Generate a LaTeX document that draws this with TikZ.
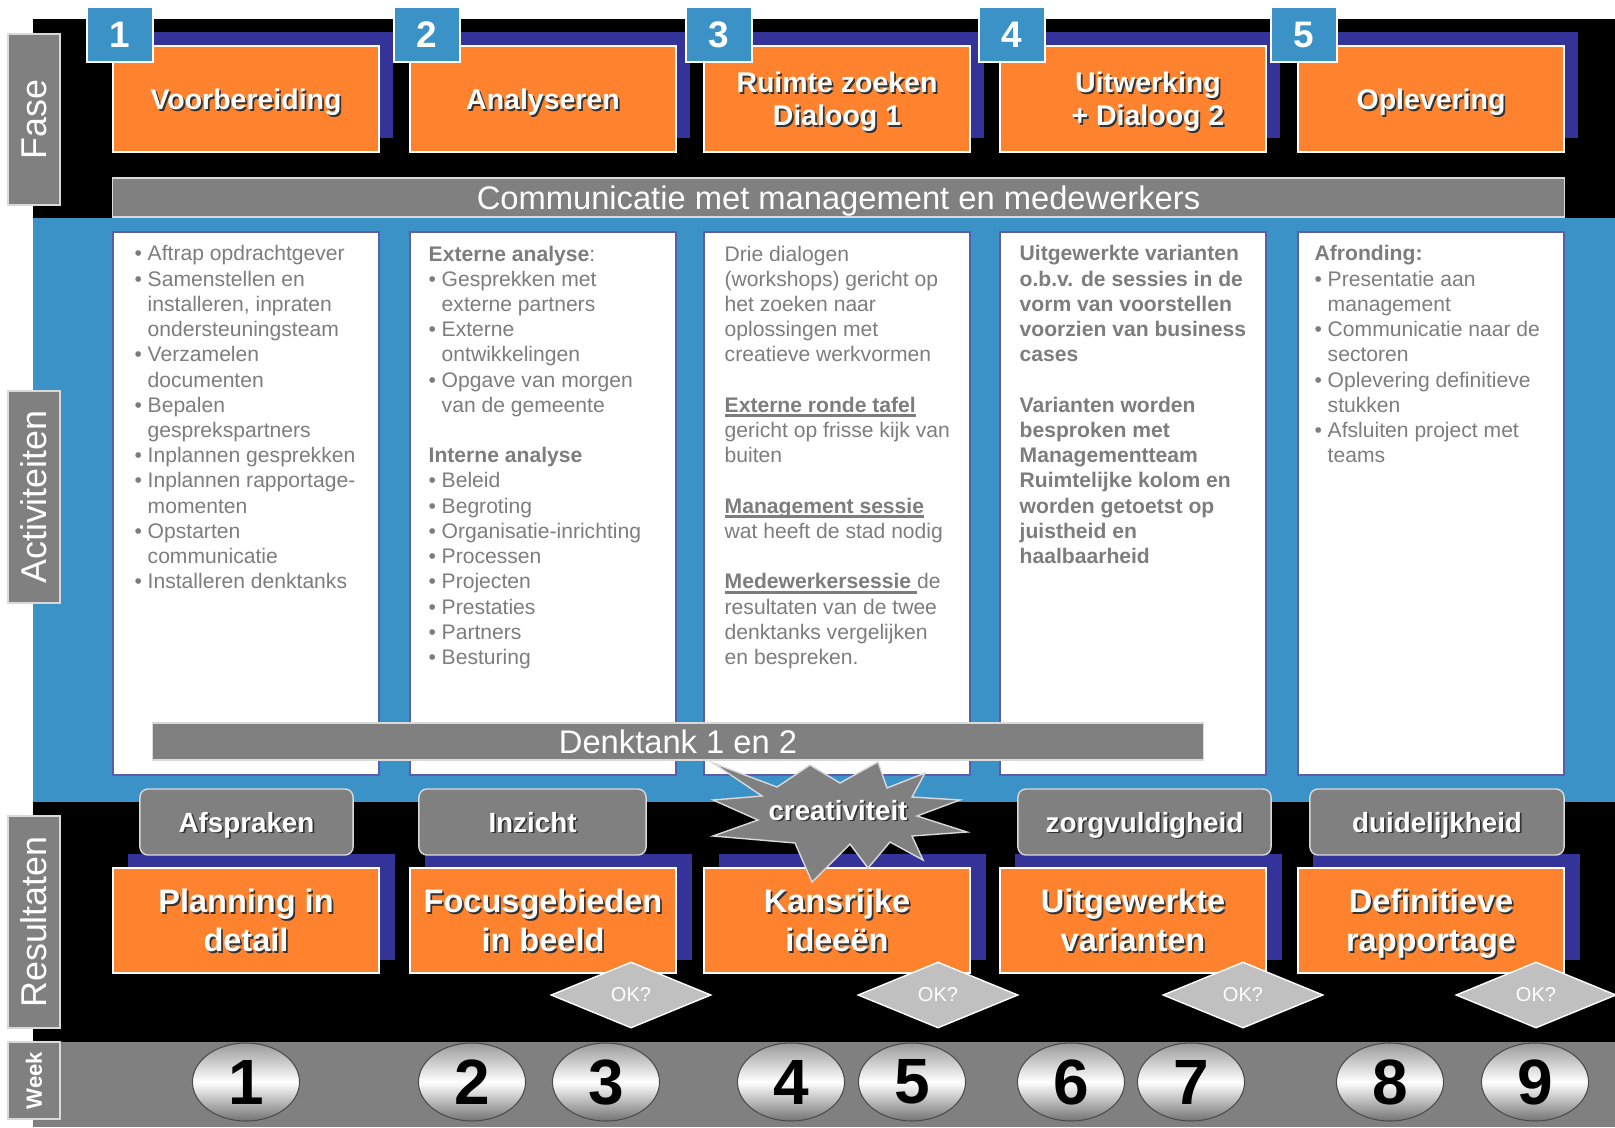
\documentclass[tikz,border=0pt]{standalone}
\usepackage{fontspec}
\setmainfont{Liberation Sans}
\usetikzlibrary{shapes.geometric,calc}

\definecolor{fzOrange}{RGB}{255,131,47}
\definecolor{fzNavy}{RGB}{51,51,153}
\definecolor{fzBlue}{RGB}{59,146,199}
\definecolor{fzGray}{RGB}{128,128,128}
\definecolor{fzLight}{RGB}{192,192,192}
\definecolor{fzText}{RGB}{125,125,125}

% white text with a small dark shadow
\newcommand{\sh}[1]{\rlap{\kern0.5pt\raisebox{-0.5pt}{\color{black!80}#1}}#1}
% thick underline for the session headings
\newsavebox\ulbox
\newcommand{\uline}[1]{\sbox\ulbox{#1}\rlap{\rule[-1.4pt]{\wd\ulbox}{0.8pt}}\usebox\ulbox}
% bullet item and hanging indent
\newcommand{\itm}{\makebox[3.7pt][l]{\textbullet}}
\newcommand{\ind}{\hspace*{3.7pt}}

\tikzset{
  phase/.style={rectangle, draw=white, line width=0.4pt, fill=fzOrange, text=white, align=center, text depth=0pt, font=\bfseries\fontsize{8.1}{9.4}\selectfont, minimum width=2.66cm, minimum height=1.06cm, inner sep=0pt},
  result/.style={phase, font=\bfseries\fontsize{9.25}{11.1}\selectfont, minimum height=1.05cm},
  numbox/.style={rectangle, draw=white, line width=0.4pt, fill=fzBlue, text=white, font=\bfseries\fontsize{10.5}{12}\selectfont, minimum width=0.66cm, minimum height=0.55cm, inner sep=0pt},
  actbox/.style={rectangle, draw=fzNavy!80, line width=0.4pt, fill=white, minimum width=2.66cm, minimum height=5.43cm},
  acttext/.style={anchor=north west, inner sep=0pt, align=left, text=fzText, font=\fontsize{6}{7.17}\selectfont},
  band/.style={rectangle, draw=white!85!black, line width=0.4pt, fill=fzGray, text=white, text depth=0pt, font=\fontsize{9.3}{11}\selectfont, inner sep=0pt},
  outcome/.style={rectangle, rounded corners=2.3pt, draw=white!85!black, line width=0.4pt, fill=fzGray, text=white, text depth=0pt, font=\bfseries\fontsize{7.9}{9.5}\selectfont, minimum height=0.66cm, inner sep=0pt},
  okgate/.style={diamond, aspect=2.42, draw=white, line width=0.4pt, fill=fzLight, text=white, font=\fontsize{5.7}{7}\selectfont, minimum width=1.6cm, minimum height=0.66cm, inner sep=0pt},
  weekegg/.style={ellipse, draw=black!70, line width=0.3pt, top color=black!40, bottom color=black!55, middle color=white, font=\bfseries\fontsize{18.2}{20}\selectfont, minimum width=1.07cm, minimum height=0.78cm, inner sep=0pt},
  sidelab/.style={rectangle, rotate=90, draw=white!85!black, line width=0.4pt, fill=fzGray, text=white, font=\fontsize{10.2}{12}\selectfont, minimum height=0.52cm, inner sep=0pt},
}

\begin{document}
\begin{tikzpicture}[x=0.01cm, y=-0.01cm]
  \useasboundingbox (0,0) rectangle (1615,1127);

  %% background bands
  \fill[black] (33,19) rectangle (1615,1127);
  \fill[fzBlue] (33,218) rectangle (1615,802);
  \fill[fzGray] (33,1042) rectangle (1615,1127);

  %% ==================
  %% Fase
  %% ==================
  \foreach \cx/\nx/\ttl [count=\i] in {246/120/{\sh{Voorbereiding}}, 543/427/{\sh{Analyseren}},
      837/719/{\sh{Ruimte zoeken}\\\sh{Dialoog 1}},
      1133/1012/{\hspace*{8.5pt}\sh{Uitwerking}\\\hspace*{8.5pt}\sh{+ Dialoog 2}},
      1431/1304/{\sh{Oplevering}}}{
    \fill[fzNavy] ({\cx-119},32) rectangle ({\cx+147},138);
    \node[phase] (ph\i) at (\cx,99) {\ttl};
    \node[numbox] (nr\i) at (\nx,34.5) {\i};
  }

  \node[band, minimum width=14.51cm, minimum height=0.39cm] (comm) at (838.5,197.5)
    {Communicatie met management en medewerkers};

  %% ==================
  %% Activiteiten
  %% ==================
  \foreach \cx [count=\i] in {246,543,837,1133,1431}
    \node[actbox] (ac\i) at (\cx,503.5) {};

  \node[acttext] (tx1) at (134,245) {%
    \itm Aftrap opdrachtgever\\
    \itm Samenstellen en\\
    \ind installeren, inpraten\\
    \ind ondersteuningsteam\\
    \itm Verzamelen\\
    \ind documenten\\
    \itm Bepalen\\
    \ind gesprekspartners\\
    \itm Inplannen gesprekken\\
    \itm Inplannen rapportage-\\
    \ind momenten\\
    \itm Opstarten\\
    \ind communicatie\\
    \itm Installeren denktanks};

  \node[acttext] (tx2) at (428,245) {%
    \textbf{Externe analyse}:\\
    \itm Gesprekken met\\
    \ind externe partners\\
    \itm Externe\\
    \ind ontwikkelingen\\
    \itm Opgave van morgen\\
    \ind van de gemeente\\[7.17pt]
    \textbf{Interne analyse}\\
    \itm Beleid\\
    \itm Begroting\\
    \itm Organisatie-inrichting\\
    \itm Processen\\
    \itm Projecten\\
    \itm Prestaties\\
    \itm Partners\\
    \itm Besturing};

  \node[acttext] (tx3) at (724,245) {%
    Drie dialogen\\
    (workshops) gericht op\\
    het zoeken naar\\
    oplossingen met\\
    creatieve werkvormen\\[7.17pt]
    \uline{\textbf{Externe ronde tafel}}\\
    gericht op frisse kijk van\\
    buiten\\[7.17pt]
    \uline{\textbf{Management sessie}}\\
    wat heeft de stad nodig\\[7.17pt]
    \uline{\textbf{Medewerkersessie }}de\\
    resultaten van de twee\\
    denktanks vergelijken\\
    en bespreken.};

  \node[acttext, font=\bfseries\fontsize{6}{7.17}\selectfont] (tx4) at (1019,245) {%
    Uitgewerkte varianten\\
    o.b.v. de sessies in de\\
    vorm van voorstellen\\
    voorzien van business\\
    cases\\[7.17pt]
    Varianten worden\\
    besproken met\\
    Managementteam\\
    Ruimtelijke kolom en\\
    worden getoetst op\\
    juistheid en\\
    haalbaarheid};

  \node[acttext] (tx5) at (1314,245) {%
    \textbf{Afronding:}\\
    \itm Presentatie aan\\
    \ind management\\
    \itm Communicatie naar de\\
    \ind sectoren\\
    \itm Oplevering definitieve\\
    \ind stukken\\
    \itm Afsluiten project met\\
    \ind teams};

  \node[band, minimum width=10.5cm, minimum height=0.37cm] (denk) at (678,741.5)
    {Denktank 1 en 2};

  %% ==================
  %% Resultaten
  %% ==================
  \foreach \cx/\ttl [count=\i] in {246/{\sh{Planning in}\\\sh{detail}},
      543/{\sh{Focusgebieden}\\\sh{in beeld}}, 837/{\sh{Kansrijke}\\\sh{ideeën}},
      1133/{\sh{Uitgewerkte}\\\sh{varianten}}, 1431/{\sh{Definitieve}\\\sh{rapportage}}}{
    \fill[fzNavy] ({\cx-118},854) rectangle ({\cx+149},960);
    \node[result] (rs\i) at (\cx,920.5) {\ttl};
  }

  \node[outcome, minimum width=2.13cm] (oc1) at (246.5,822) {\sh{Afspraken}};
  \node[outcome, minimum width=2.27cm] (oc2) at (532.5,822) {\sh{Inzicht}};
  \node[outcome, minimum width=2.53cm] (oc4) at (1144.5,822) {\sh{zorgvuldigheid}};
  \node[outcome, minimum width=2.54cm] (oc5) at (1437,822) {\sh{duidelijkheid}};

  % creativity burst
  \filldraw[fill=fzGray, draw=white!85!black, line width=0.4pt]
    (713,763) -- (777,787) -- (810,765) -- (840,783) -- (878,762) -- (887,788)
    -- (925,773) -- (912,797) -- (960,800) -- (917,816) -- (967,832) -- (912,836)
    -- (923,860) -- (890,842) -- (868,868) -- (850,844) -- (812,882) -- (795,843)
    -- (713,836) -- (758,820) -- (713,800) -- (762,796) -- cycle;
  \node[text=white, font=\bfseries\fontsize{7.9}{9.5}\selectfont] (oc3) at (838,811) {\sh{creativiteit}};

  \foreach \gx [count=\i] in {631,938,1243,1536}
    \node[okgate] (ok\i) at (\gx,995) {OK?};

  %% ==================
  %% Week
  %% ==================
  \foreach \wx [count=\i] in {246,472,606,791,912,1071,1191,1390,1535}
    \node[weekegg] (wk\i) at (\wx,1082) {\i};

  % side labels
  \node[sidelab, minimum width=1.71cm] (lfase) at (34,119.5) {Fase};
  \node[sidelab, minimum width=2.12cm] (lact) at (34,497) {Activiteiten};
  \node[sidelab, minimum width=2.12cm] (lres) at (34,922) {Resultaten};
  \node[sidelab, minimum width=0.77cm, font=\bfseries\fontsize{6.3}{7.5}\selectfont] (lweek) at (34,1080.5) {Week};
\end{tikzpicture}
\end{document}
